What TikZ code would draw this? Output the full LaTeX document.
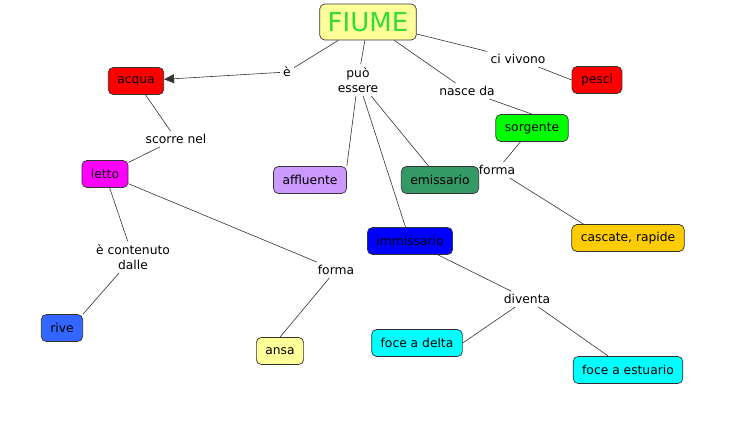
\documentclass[tikz,border=0pt]{standalone}
\usepackage{fontspec}
\setmainfont{DejaVu Sans}
\usetikzlibrary{arrows.meta}
\definecolor{fiumegreen}{HTML}{33DD33}
\definecolor{paleyellow}{HTML}{FFFF99}
\definecolor{lilac}{HTML}{CC99FF}
\definecolor{seagreen}{HTML}{339966}
\definecolor{gold}{HTML}{FFCC00}
\definecolor{skyblue}{HTML}{3366FF}
\definecolor{purered}{HTML}{FF0000}
\definecolor{puregreen}{HTML}{00FF00}
\definecolor{pureblue}{HTML}{0000FF}
\definecolor{puremagenta}{HTML}{FF00FF}
\definecolor{purecyan}{HTML}{00FFFF}
\begin{document}
\begin{tikzpicture}[x = 1pt, y = -1pt,
    box/.style = {draw = black!80, line width = 0.7pt, rounded corners = 5pt,
      minimum height = 27pt, inner xsep = 9pt,
      font = \fontsize{12.3}{14}\selectfont},
    phrase/.style = {inner sep = 3pt, align = center,
      font = \fontsize{12.3}{15.5}\selectfont},
    link/.style = {draw = black!80, line width = 0.6pt}]
  \fill[white] (0, 0) rectangle (729, 429);
  \useasboundingbox (0, 0) rectangle (729, 429);

  \node[box, fill = paleyellow, text = fiumegreen, minimum height = 36pt,
    inner xsep = 8pt, font = \fontsize{26}{28}\selectfont] (fiume)
    at (368, 22) {FIUME};
  \node[box, fill = purered] (acqua) at (136, 81) {acqua};
  \node[box, fill = purered] (pesci) at (597, 80) {pesci};
  \node[box, fill = puregreen] (sorgente) at (532, 128) {sorgente};
  \node[box, fill = puremagenta] (letto) at (105, 174) {letto};
  \node[box, fill = lilac] (affluente) at (310, 180) {affluente};
  \node[box, fill = seagreen] (emissario) at (440, 180) {emissario};
  \node[box, fill = pureblue] (immissario) at (410, 241) {immissario};
  \node[box, fill = gold] (cascate) at (628, 238) {cascate, rapide};
  \node[box, fill = skyblue] (rive) at (62, 328) {rive};
  \node[box, fill = paleyellow] (ansa) at (280, 351) {ansa};
  \node[box, fill = purecyan] (delta) at (417, 343) {foce a delta};
  \node[box, fill = purecyan] (estuario) at (628, 370) {foce a estuario};

  \node[phrase] (e) at (287, 72) {è};
  \node[phrase] (puo) at (358, 80) {può\\essere};
  \node[phrase] (nasce) at (467, 91) {nasce da};
  \node[phrase] (vivono) at (518, 59) {ci vivono};
  \node[phrase] (scorre) at (176, 139) {scorre nel};
  \node[phrase] (formas) at (497, 170) {forma};
  \node[phrase] (contenuto) at (133, 257) {è contenuto\\dalle};
  \node[phrase] (formal) at (336, 270) {forma};
  \node[phrase] (diventa) at (527, 299) {diventa};

  \draw[link] (fiume) -- (e);
  \draw[link, -{Triangle[length = 10pt, width = 9pt]}] (e) -- (acqua);
  \draw[link] (fiume) -- (puo);
  \draw[link] (puo) -- (affluente.north east);
  \draw[link] (puo) -- (emissario);
  \draw[link] (puo) -- (immissario);
  \draw[link] (fiume) -- (nasce);
  \draw[link] (nasce) -- (sorgente.north);
  \draw[link] (fiume) -- (vivono);
  \draw[link] (vivono) -- (pesci.west);
  \draw[link] (sorgente) -- (formas);
  \draw[link] (formas) -- ([xshift = 12pt]cascate.north west);
  \draw[link] (acqua) -- (scorre);
  \draw[link] (scorre) -- (letto);
  \draw[link] (letto) -- (contenuto);
  \draw[link] (contenuto) -- (rive.north east);
  \draw[link] (letto) -- (formal);
  \draw[link] (formal) -- (ansa.north);
  \draw[link] (immissario) -- (diventa);
  \draw[link] (diventa) -- (delta.east);
  \draw[link] (diventa) -- (estuario);
\end{tikzpicture}
\end{document}
